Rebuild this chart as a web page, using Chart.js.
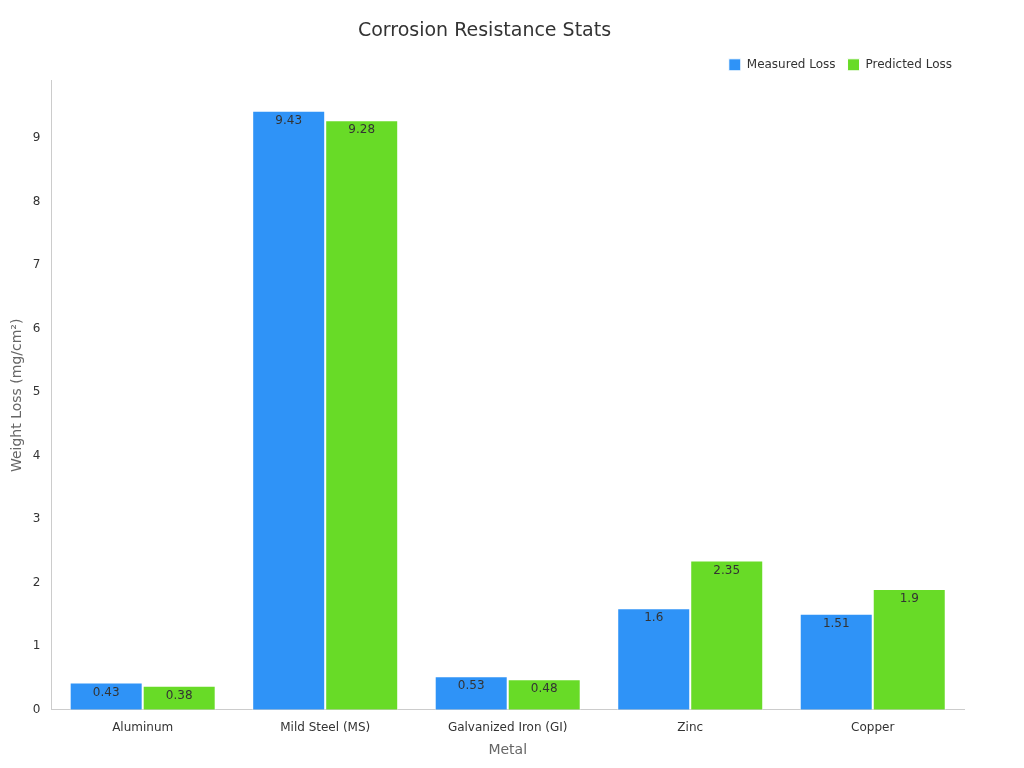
<!DOCTYPE html>
<html>
<head>
<meta charset="utf-8">
<script src="https://cdn.jsdelivr.net/npm/chart.js@4/dist/chart.umd.min.js"></script>
<style>
  html, body { margin: 0; padding: 0; background: #fff; }
  #wrap { width: 1024px; height: 768px; }
</style>
</head>
<body>
<div id="wrap"><canvas id="chart"></canvas></div>
<script>
const metals = ["Aluminum", "Mild Steel (MS)", "Galvanized Iron (GI)", "Zinc", "Copper"];
const measuredLoss = [0.43, 9.43, 0.53, 1.6, 1.51];
const predictedLoss = [0.38, 9.28, 0.48, 2.35, 1.9];

// value labels just inside the top of each bar
const barLabels = {
  id: "barLabels",
  afterDatasetsDraw(chart) {
    const ctx = chart.ctx;
    ctx.save();
    ctx.font = "12px 'DejaVu Sans', sans-serif";
    ctx.fillStyle = "#333";
    ctx.textAlign = "center";
    ctx.textBaseline = "middle";
    chart.data.datasets.forEach((ds, i) => {
      chart.getDatasetMeta(i).data.forEach((bar, j) => {
        ctx.fillText(String(ds.data[j]), bar.x, bar.y + 10);
      });
    });
    ctx.restore();
  }
};

new Chart(document.getElementById("chart"), {
  type: "bar",
  data: {
    labels: metals,
    datasets: [
      { label: "Measured Loss", data: measuredLoss, backgroundColor: "#2f93f7", borderColor: "#fff", borderWidth: 1 },
      { label: "Predicted Loss", data: predictedLoss, backgroundColor: "#68db27", borderColor: "#fff", borderWidth: 1 }
    ]
  },
  plugins: [barLabels],
  options: {
    responsive: true,
    maintainAspectRatio: false,
    animation: false,
    layout: { padding: { left: 5, right: 60, top: 10, bottom: 5 } },
    datasets: { bar: { barPercentage: 1, categoryPercentage: 0.8 } },
    plugins: {
      title: {
        display: true, text: "Corrosion Resistance Stats", color: "#333",
        font: { family: "'DejaVu Sans', sans-serif", size: 19, weight: "normal" },
        padding: { top: 10, bottom: 4 }
      },
      legend: {
        align: "end",
        labels: { boxWidth: 12, boxHeight: 12, color: "#333", padding: 12,
          font: { family: "'DejaVu Sans', sans-serif", size: 12 } }
      },
      tooltip: { enabled: false }
    },
    scales: {
      x: {
        grid: { display: false },
        border: { color: "#ccc" },
        ticks: { color: "#333", font: { family: "'DejaVu Sans', sans-serif", size: 12 } },
        title: { display: true, text: "Metal", color: "#666", font: { family: "'DejaVu Sans', sans-serif", size: 14 } }
      },
      y: {
        min: 0, max: 9.9,
        grid: { display: false, drawTicks: true },
        border: { color: "#ccc" },
        ticks: { stepSize: 1, color: "#333", font: { family: "'DejaVu Sans', sans-serif", size: 12 },
          callback: v => Number.isInteger(v) ? v : "" },
        title: { display: true, text: "Weight Loss (mg/cm²)", color: "#666", font: { family: "'DejaVu Sans', sans-serif", size: 14 } }
      }
    }
  }
});
</script>
</body>
</html>
